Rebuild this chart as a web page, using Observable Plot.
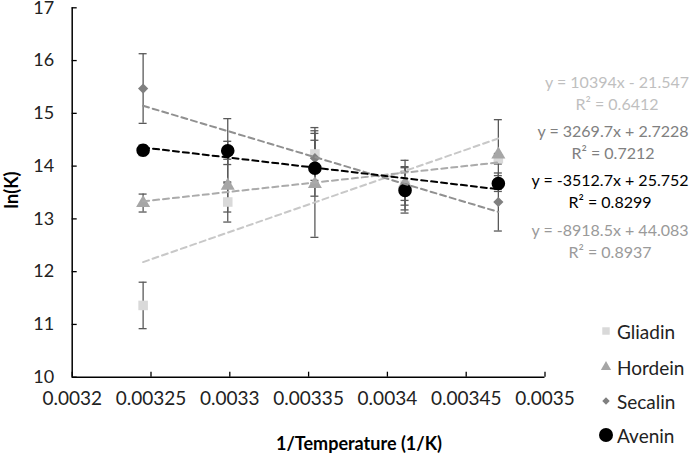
<!DOCTYPE html>
<html>
<head>
<meta charset="utf-8">
<script src="https://cdn.jsdelivr.net/npm/d3@7"></script>
<script src="https://cdn.jsdelivr.net/npm/@observablehq/plot@0.6"></script>
<style>
  html, body { margin: 0; padding: 0; background: #fff; }
  #wrap { position: relative; width: 692px; height: 455px; font-family: Lato, "Open Sans", sans-serif; overflow: hidden; }
  #wrap svg.plot { position: absolute; left: 0; top: 0; }
  .eq { position: absolute; font-size: 16px; text-align: center; white-space: nowrap; transform: translate(-50%, -50%); line-height: 1; }
  .leg { position: absolute; font-size: 19px; white-space: nowrap; transform: translateY(-50%); line-height: 1; }
  .legsym { position: absolute; transform: translate(-50%, -50%); }
</style>
</head>
<body>
<div id="wrap"></div>
<script>
// ---- data ----
const invTemp = [0.003245, 0.0032987, 0.003354, 0.0034112, 0.0034704];
const seriesNames = ["Gliadin", "Hordein", "Secalin", "Avenin"];
const gliadin    = [11.36, 13.32, 14.23, 13.64, 14.14];
const gliadinErr = [0.44, 0.38, 0.50, 0.47, 0.10];
const hordein    = [13.30, 13.63, 13.66, 13.67, 14.22];
const hordeinErr = [0.17, 0.50, 1.01, 0.32, 0.66];
const secalin    = [15.47, 14.25, 14.15, 13.58, 13.32];
const secalinErr = [0.66, 0.22, 0.47, 0.32, 0.55];
const avenin     = [14.30, 14.29, 13.96, 13.54, 13.67];
const aveninErr  = [0.10, 0.61, 0.53, 0.43, 0.15];
const slopes     = [10394, 3269.7, -8918.5, -3512.7];
const intercepts = [-21.547, 2.7228, 44.083, 25.752];
const rSquared   = ["0.6412", "0.7212", "0.8937", "0.8299"];
const eqLabels   = ["y = 10394x - 21.547", "y = 3269.7x + 2.7228", "y = -8918.5x + 44.083", "y = -3512.7x + 25.752"];
const xTicks = [0.0032, 0.00325, 0.0033, 0.00335, 0.0034, 0.00345, 0.0035];
const xTickLabels = ["0.0032", "0.00325", "0.0033", "0.00335", "0.0034", "0.00345", "0.0035"];
const yTicks = [10, 11, 12, 13, 14, 15, 16, 17];
const yTickLabels = ["10", "11", "12", "13", "14", "15", "16", "17"];

// ---- styles ----
const values = [gliadin, hordein, secalin, avenin];
const errs = [gliadinErr, hordeinErr, secalinErr, aveninErr];
const markerFill = ["#d9d9d9", "#a6a6a6", "#808080", "#000000"];
const markerSymbol = ["square", "triangle", "diamond2", "circle"];
const markerR = [5.4, 5.2, 4.6, 6.8];
const trendColor = ["#c8c8c8", "#ababab", "#909090", "#000000"];
const eqColor = ["#bfbfbf", "#808080", "#9a9a9a", "#000000"];

const rows = [];
seriesNames.forEach((s, k) => invTemp.forEach((x, i) => rows.push({series: s, k, x, y: values[k][i], e: errs[k][i]})));

const trend = [];
seriesNames.forEach((s, k) => [invTemp[0], invTemp[invTemp.length - 1]].forEach(x => trend.push({series: s, k, x, y: slopes[k] * x + intercepts[k]})));

const errColor = "#595959";
const marks = [
  Plot.ruleX(rows, {x: "x", y1: d => d.y - d.e, y2: d => d.y + d.e, stroke: errColor, strokeWidth: 1.3}),
  Plot.ruleY(rows, {y: d => d.y + d.e, x1: "x", x2: "x", insetLeft: -4, insetRight: -4, stroke: errColor, strokeWidth: 1.3}),
  Plot.ruleY(rows, {y: d => d.y - d.e, x1: "x", x2: "x", insetLeft: -4, insetRight: -4, stroke: errColor, strokeWidth: 1.3}),
];
seriesNames.forEach((s, k) => {
  marks.push(Plot.dot(rows.filter(d => d.k === k), {x: "x", y: "y", symbol: () => markerSymbol[k], r: markerR[k], fill: markerFill[k], stroke: "none"}));
});
seriesNames.forEach((s, k) => {
  marks.push(Plot.line(trend.filter(d => d.k === k), {x: "x", y: "y", stroke: trendColor[k], strokeWidth: 2, strokeDasharray: "6,4"}));
});
marks.push(
  Plot.ruleX([xTicks[0]], {stroke: "#000", strokeWidth: 1.5}),
  Plot.ruleY([yTicks[0]], {stroke: "#000", strokeWidth: 1.5}),
  Plot.ruleX(xTicks, {x: d => d, y1: yTicks[0], y2: yTicks[0], insetTop: -5, stroke: "#000", strokeWidth: 1.3}),
  Plot.ruleY(yTicks, {y: d => d, x1: xTicks[0], x2: xTicks[0], insetRight: -5, stroke: "#000", strokeWidth: 1.3}),
  Plot.axisX(xTicks, {tickSize: 0, tickPadding: 14, tickFormat: (d, i) => xTickLabels[i], fontSize: 19, label: null, fill: "#222"}),
  Plot.axisY(yTicks, {tickSize: 0, tickPadding: 18, tickFormat: (d, i) => yTickLabels[i], fontSize: 18, label: null, fill: "#222"})
);

const chart = Plot.plot({
  width: 692, height: 455,
  marginLeft: 71.7, marginRight: 147.5, marginTop: 7.3, marginBottom: 78.3,
  x: {domain: [0.0032, 0.0035]},
  y: {domain: [10, 17]},
  style: {fontFamily: "Lato, 'Open Sans', sans-serif", background: "white", overflow: "visible"},
  marks
});
chart.classList.add("plot");
const wrap = document.getElementById("wrap");
wrap.appendChild(chart);

function addDiv(cls, text, left, top, style) {
  const d = document.createElement("div");
  d.className = cls; d.textContent = text;
  d.style.left = left + "px"; d.style.top = top + "px";
  Object.assign(d.style, style || {});
  wrap.appendChild(d);
  return d;
}
addDiv("eq", "1/Temperature (1/K)", 359, 443, {fontWeight: "bold", fontSize: "18px", color: "#000"});
addDiv("eq", "ln(K)", 11, 190, {fontWeight: "bold", fontSize: "18px", color: "#000", transform: "translate(-50%,-50%) rotate(-90deg)"});

const eqOrder = [0, 1, 3, 2];
const eqX = [617, 613, 610, 610];
const eqY = [82, 131, 180, 230];
eqOrder.forEach((k, j) => {
  addDiv("eq", eqLabels[k], eqX[j], eqY[j], {color: eqColor[k]});
  addDiv("eq", "R² = " + rSquared[k], eqX[j], eqY[j] + 21.5, {color: eqColor[k]});
});

const legY = [331, 366.5, 401, 435];
seriesNames.forEach((s, k) => {
  const sz = 16;
  const svg = d3.create("svg").attr("width", sz).attr("height", sz).attr("class", "legsym")
    .style("left", "606px").style("top", legY[k] + "px");
  const sym = {square: d3.symbolSquare, triangle: d3.symbolTriangle, diamond2: d3.symbolDiamond2, circle: d3.symbolCircle}[markerSymbol[k]];
  const legR = [4.2, 3.8, 3.4, 7][k];
  svg.append("path").attr("transform", `translate(${sz/2},${sz/2})`)
    .attr("d", d3.symbol(sym, Math.PI * legR * legR)()).attr("fill", markerFill[k]);
  wrap.appendChild(svg.node());
  addDiv("leg", s, 617, legY[k], {color: "#222"});
});
</script>
</body>
</html>
